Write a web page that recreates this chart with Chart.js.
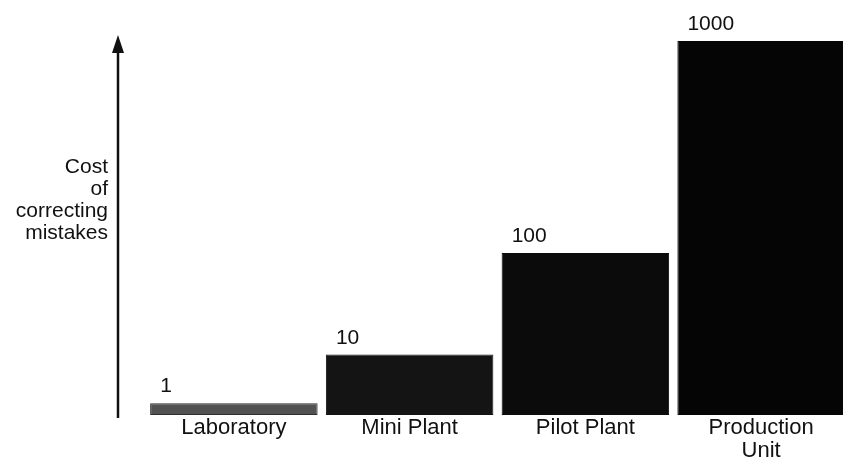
<!DOCTYPE html>
<html>
<head>
<meta charset="utf-8">
<script src="https://cdn.jsdelivr.net/npm/chart.js@4"></script>
<style>
  html, body { margin: 0; padding: 0; overflow: hidden; background: #ffffff; }
  #wrap { position: relative; width: 849px; height: 462px; }
</style>
</head>
<body>
<div id="wrap"><canvas id="chart"></canvas></div>
<script>
// Stages of process development and the relative cost of fixing a mistake at each one
const stages = ['Laboratory', 'Mini Plant', 'Pilot Plant', ['Production', 'Unit']];
const relativeCost = [1, 10, 100, 1000];
const costLabels = ['1', '10', '100', '1000'];
const yAxisTitle = ['Cost', 'of', 'correcting', 'mistakes'];
const barColors = ['#525252', '#141414', '#0b0b0b', '#050505'];
const barBorders = ['#2e2e2e', '#141414', '#0b0b0b', '#050505'];

const FONT = '"Liberation Sans", Arial, Helvetica, sans-serif';
const INK = '#111111';

// A compressive power scale: pixel position follows value^exponent between min and max
class PowerScale extends Chart.LinearScale {
  static id = 'power';
  static defaults = Chart.LinearScale.defaults;
  _pw(v) {
    const p = this.options.exponent || 0.5;
    return Math.pow(v, p);
  }
  getPixelForValue(value) {
    if (value === null || value === undefined || isNaN(value)) return NaN;
    const v = Math.max(value, this.min);
    const lo = this._pw(this.min), hi = this._pw(this.max);
    return this.getPixelForDecimal((this._pw(v) - lo) / (hi - lo));
  }
  getValueForPixel(pixel) {
    const p = this.options.exponent || 0.5;
    const lo = this._pw(this.min), hi = this._pw(this.max);
    const d = this.getDecimalForPixel(pixel);
    return Math.pow(lo + d * (hi - lo), 1 / p);
  }
}
Chart.register(PowerScale);

// Vertical arrow on the left plus the horizontal, right-aligned axis caption
const axisArrow = {
  id: 'axisArrow',
  afterDraw(chart) {
    const { ctx, chartArea } = chart;
    const x = chartArea.left - 28;
    const tipY = chartArea.top - 6;
    const baseY = chartArea.top + 12;
    ctx.save();
    ctx.strokeStyle = INK;
    ctx.fillStyle = INK;
    ctx.lineWidth = 2.5;
    ctx.beginPath();
    ctx.moveTo(x, chartArea.bottom + 3);
    ctx.lineTo(x, baseY);
    ctx.stroke();
    ctx.beginPath();
    ctx.moveTo(x, tipY);
    ctx.lineTo(x - 6, baseY);
    ctx.lineTo(x + 6, baseY);
    ctx.closePath();
    ctx.fill();

    ctx.font = '21px ' + FONT;
    ctx.textAlign = 'right';
    ctx.textBaseline = 'alphabetic';
    const tx = chartArea.left - 38;
    yAxisTitle.forEach((line, i) => {
      ctx.fillText(line, tx, chartArea.top + 132 + i * 22);
    });
    ctx.restore();
  }
};

// Cost figure written just above the left edge of each bar
const costTags = {
  id: 'costTags',
  afterDatasetsDraw(chart) {
    const { ctx } = chart;
    const meta = chart.getDatasetMeta(0);
    ctx.save();
    ctx.font = '21px ' + FONT;
    ctx.fillStyle = INK;
    ctx.textAlign = 'left';
    ctx.textBaseline = 'alphabetic';
    meta.data.forEach((bar, i) => {
      ctx.fillText(costLabels[i], bar.x - bar.width / 2 + 10, bar.y - 11);
    });
    ctx.restore();
  }
};

new Chart(document.getElementById('chart'), {
  type: 'bar',
  data: {
    labels: stages,
    datasets: [{
      data: relativeCost,
      backgroundColor: barColors,
      borderColor: barBorders,
      borderWidth: 1,
      borderSkipped: false,
      barPercentage: 0.953,
      categoryPercentage: 1
    }]
  },
  options: {
    responsive: true,
    maintainAspectRatio: false,
    animation: false,
    devicePixelRatio: 1,
    layout: { padding: { top: 41, left: 146, right: 0, bottom: 0 } },
    plugins: {
      legend: { display: false },
      tooltip: { enabled: false },
      title: { display: false }
    },
    scales: {
      x: {
        grid: { display: false, drawTicks: false },
        border: { display: false },
        ticks: {
          color: INK,
          padding: 1,
          font: { family: FONT, size: 22, lineHeight: 1.05 },
          maxRotation: 0,
          autoSkip: false
        },
        afterFit(scale) { scale.height = 47; }
      },
      y: {
        type: 'power',
        exponent: 0.32,
        min: 0.38,
        max: 1000,
        display: false
      }
    }
  },
  plugins: [axisArrow, costTags]
});
</script>
</body>
</html>
